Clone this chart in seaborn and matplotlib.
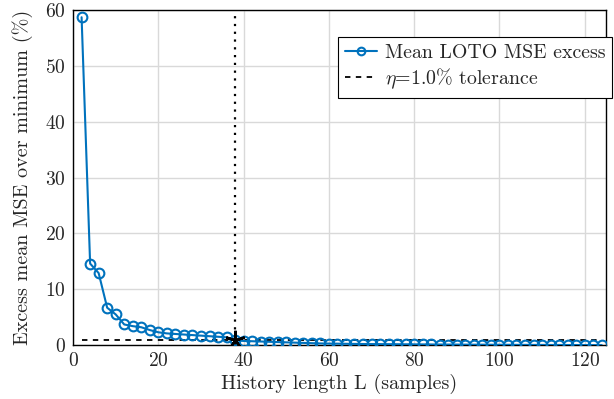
import numpy as np
import pandas as pd
import matplotlib
matplotlib.use("Agg")
import matplotlib.pyplot as plt
import seaborn as sns

# Data
L_values = list(range(2, 125, 2))
excess = [58.7, 14.6, 12.9, 6.7, 5.5, 3.7, 3.4, 3.2, 2.7, 2.3,
          2.1, 2.0, 1.9, 1.8, 1.7, 1.6, 1.5, 1.4, 0.85, 0.75,
          0.7, 0.65, 0.6, 0.55, 0.5, 0.45, 0.4, 0.35, 0.3, 0.28,
          0.26, 0.24, 0.22, 0.2, 0.19, 0.18, 0.17, 0.16, 0.15, 0.14,
          0.13, 0.12, 0.11, 0.1, 0.1, 0.09, 0.08, 0.08, 0.07, 0.06,
          0.06, 0.05, 0.05, 0.04, 0.04, 0.03, 0.03, 0.02, 0.02, 0.01,
          0.01, 0.0]
tolerance = 1.0
L_star = 38
series_label = "Mean LOTO MSE excess"
tol_label = r"$\eta$=1.0% tolerance"
x_ticks = [0, 20, 40, 60, 80, 100, 120]
y_ticks = [0, 10, 20, 30, 40, 50, 60]

df = pd.DataFrame({"L": L_values, "excess": excess})

sns.set_style("white")
plt.rcParams["font.family"] = ["cmr10", "DejaVu Serif"]
plt.rcParams["mathtext.fontset"] = "cm"
plt.rcParams["axes.formatter.use_mathtext"] = True

fig = plt.figure(figsize=(6.14, 3.99), dpi=100)
ax = fig.add_axes([0.119, 0.135, 0.868, 0.840])

blue = "#0072BD"
sns.lineplot(data=df, x="L", y="excess", ax=ax, color=blue, linewidth=1.5,
             marker="o", markersize=7, markerfacecolor="none",
             markeredgecolor=blue, markeredgewidth=1.5, label=series_label,
             zorder=3)
ax.plot([L_values[0], L_values[-1]], [tolerance, tolerance], color="black",
        linestyle=(0, (3, 3)), linewidth=1.3, label=tol_label, zorder=2)
ax.axvline(L_star, color="black", linestyle=(0, (1, 2.5)), linewidth=1.6, zorder=2)
star_y = excess[L_values.index(L_star)]
ax.plot([L_star], [star_y], marker=(5, 2, 0), color="black", markersize=14,
        markeredgewidth=1.8, linestyle="none", zorder=5)

ax.set_xlim(0, 125)
ax.set_ylim(0, 60)
ax.set_xticks(x_ticks)
ax.set_yticks(y_ticks)
ax.grid(True, color="#d9d9d9", linewidth=1.0)
ax.set_axisbelow(True)
for s in ax.spines.values():
    s.set_color("black")
    s.set_linewidth(1.0)
ax.tick_params(direction="in", length=4, color="#aaaaaa", labelsize=14, pad=5)
ax.set_xlabel("History length L (samples)", fontsize=14.5, labelpad=3)
ax.set_ylabel("Excess mean MSE over minimum (%)", fontsize=14.5, labelpad=9)

leg = ax.legend(loc="upper right", bbox_to_anchor=(1.012, 0.92), fontsize=14.3,
                frameon=True, fancybox=False, edgecolor="black",
                framealpha=1, borderpad=0.35, handlelength=1.6,
                handletextpad=0.4, labelspacing=0.25, borderaxespad=0.0)
leg.get_frame().set_linewidth(0.8)
for h in leg.legend_handles:
    h.set_markersize(5.5)

fig.savefig("out.png", dpi=100)
